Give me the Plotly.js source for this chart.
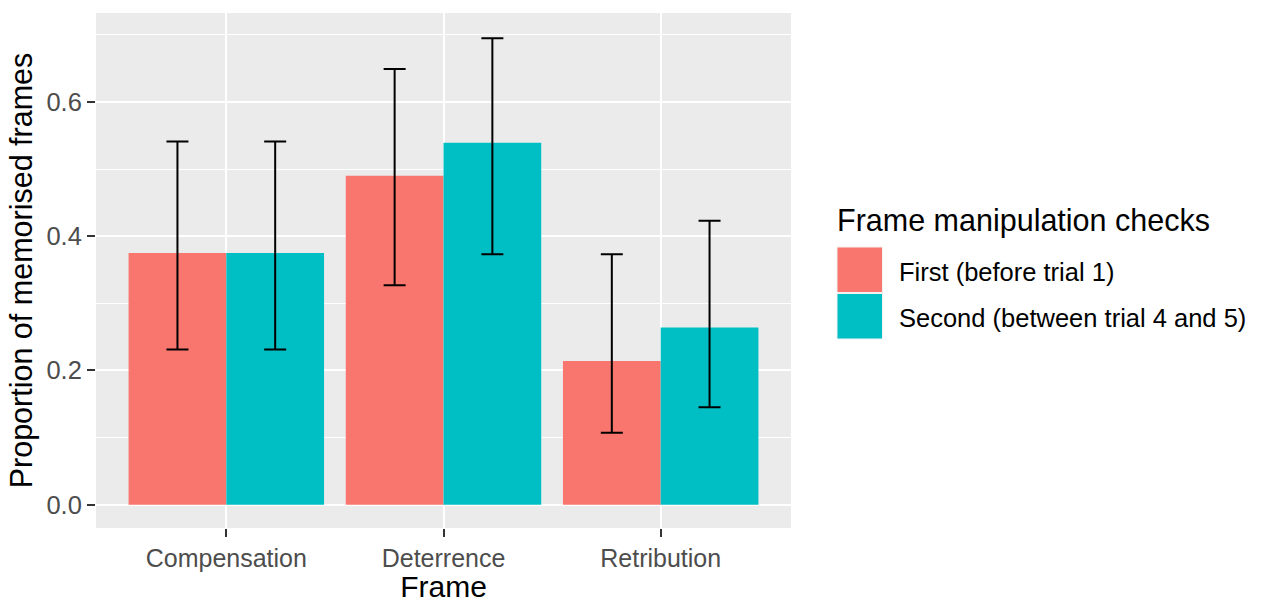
<!DOCTYPE html>
<html>
<head>
<meta charset="utf-8">
<script src="https://cdn.plot.ly/plotly-3.0.1.min.js"></script>
<style>html,body{margin:0;padding:0;background:#fff;}#chart{width:1261px;height:603px;}</style>
</head>
<body>
<div id="chart"></div>
<script>
// ---- data ----
const categories = ["Compensation", "Deterrence", "Retribution"];
const seriesNames = ["First (before trial 1)", "Second (between trial 4 and 5)"];
const seriesColors = ["#F8766D", "#00BFC4"];
const firstValues  = [0.375, 0.490, 0.214];
const firstLower   = [0.231, 0.327, 0.107];
const firstUpper   = [0.541, 0.649, 0.373];
const secondValues = [0.375, 0.539, 0.264];
const secondLower  = [0.231, 0.373, 0.145];
const secondUpper  = [0.541, 0.695, 0.423];
const yTickVals = [0, 0.2, 0.4, 0.6];
const yTickText = ["0.0", "0.2", "0.4", "0.6"];
const legendTitle = "Frame manipulation checks";
const xTitle = "Frame";
const yTitle = "Proportion of memorised frames";

const FONT = "Liberation Sans, Arial, sans-serif";

function makeTrace(name, color, vals, lo, hi) {
  return {
    type: "bar",
    name: name,
    x: categories,
    y: vals,
    marker: {color: color, line: {width: 0}},
    error_y: {
      type: "data",
      symmetric: false,
      array: hi.map((h, i) => h - vals[i]),
      arrayminus: lo.map((l, i) => vals[i] - l),
      color: "#000000",
      thickness: 2,
      width: 11
    },
    hoverinfo: "skip"
  };
}

const traces = [
  makeTrace(seriesNames[0], seriesColors[0], firstValues, firstLower, firstUpper),
  makeTrace(seriesNames[1], seriesColors[1], secondValues, secondLower, secondUpper)
];

// manual legend (big ggplot-style keys)
const L = 96, R = 470, T = 13, B = 75, W = 1261, H = 603;
const pw = W - L - R, ph = H - T - B;
const px = v => (v - L) / pw;
const py = v => (H - B - v) / ph;

const keyTops = [247, 293.5];
const keySize = 45.5;
const shapes = seriesColors.map((c, i) => ({
  type: "rect", xref: "paper", yref: "paper",
  x0: px(837), x1: px(837 + keySize),
  y0: py(keyTops[i]), y1: py(keyTops[i] + keySize),
  fillcolor: c, line: {width: 1, color: "#F2F2F2"}, layer: "above"
}));

const annotations = [
  {text: legendTitle, xref: "paper", yref: "paper", x: px(835), y: py(220),
   xanchor: "left", yanchor: "middle", showarrow: false,
   font: {family: FONT, size: 30.5, color: "#000000"}}
].concat(seriesNames.map((n, i) => ({
  text: n, xref: "paper", yref: "paper", x: px(897), y: py(keyTops[i] + keySize / 2 + 2),
  xanchor: "left", yanchor: "middle", showarrow: false,
  font: {family: FONT, size: 25.5, color: "#000000"}
})));

const layout = {
  width: W, height: H,
  margin: {l: L, r: R, t: T, b: B, pad: 0},
  paper_bgcolor: "#FFFFFF",
  plot_bgcolor: "#EBEBEB",
  barmode: "group",
  bargap: 0.1,
  bargroupgap: 0,
  showlegend: false,
  font: {family: FONT, color: "#4D4D4D"},
  xaxis: {
    type: "category",
    range: [-0.6, 2.6],
    showgrid: true, gridcolor: "#FFFFFF", gridwidth: 2,
    zeroline: false, showline: false,
    ticks: "outside", ticklen: 8, tickwidth: 2, tickcolor: "#333333",
    tickfont: {family: FONT, size: 25, color: "#4D4D4D"},
    title: {text: xTitle, standoff: 9, font: {family: FONT, size: 30, color: "#000000"}},
    fixedrange: true
  },
  yaxis: {
    range: [-0.0348, 0.7325],
    tickvals: yTickVals, ticktext: yTickText,
    showgrid: true, gridcolor: "#FFFFFF", gridwidth: 2,
    minor: {dtick: 0.1, tick0: 0, showgrid: true, gridcolor: "#FFFFFF", gridwidth: 1},
    zeroline: false, showline: false,
    ticks: "outside", ticklen: 8, tickwidth: 2, tickcolor: "#333333",
    tickfont: {family: FONT, size: 25.5, color: "#4D4D4D"},
    title: {text: yTitle, standoff: 4, font: {family: FONT, size: 30.5, color: "#000000"}},
    fixedrange: true
  },
  shapes: shapes,
  annotations: annotations
};

Plotly.newPlot("chart", traces, layout, {displayModeBar: false, staticPlot: true});
</script>
</body>
</html>
